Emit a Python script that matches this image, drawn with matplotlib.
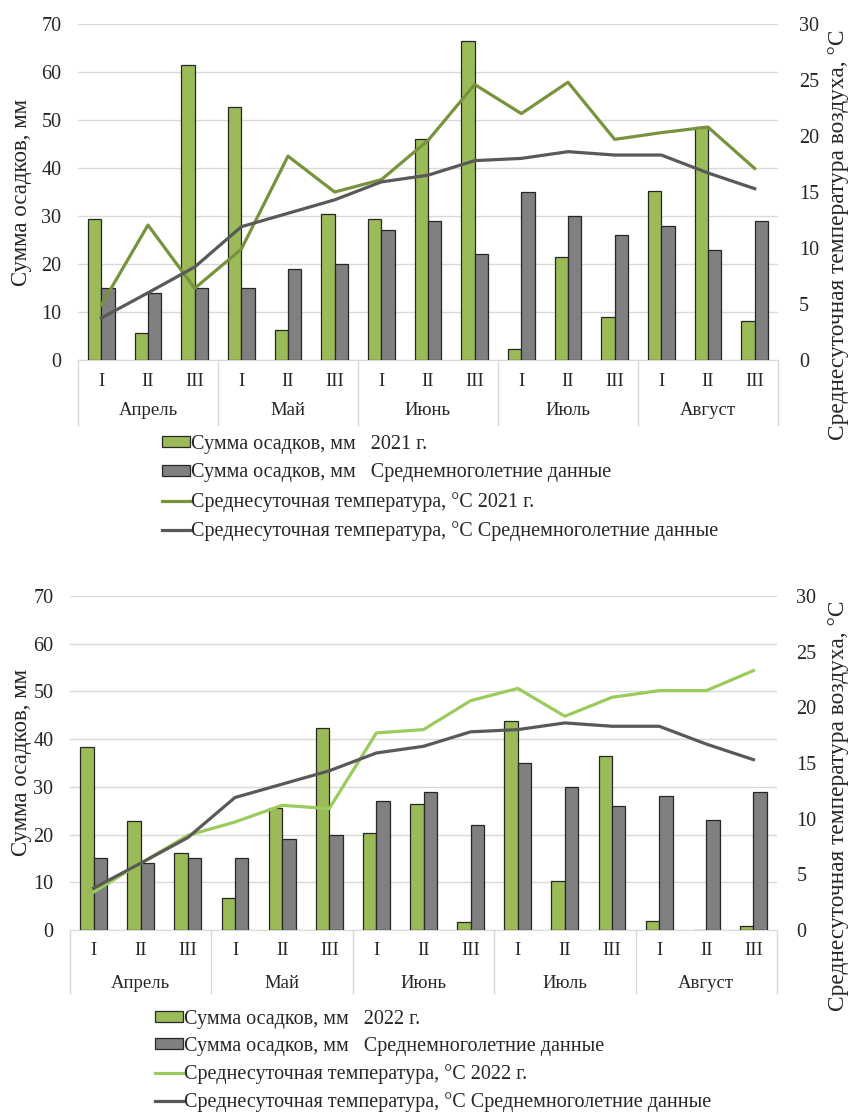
import matplotlib
matplotlib.use("Agg")
import matplotlib.pyplot as plt
import matplotlib.transforms as mtransforms
from matplotlib.patches import Patch
from matplotlib.lines import Line2D
import numpy as np

plt.rcParams['font.family'] = ['Liberation Serif', 'DejaVu Serif']

months = ["Апрель", "Май", "Июнь", "Июль", "Август"]
decades = ["I", "II", "III"]

precip_2021 = [29.3, 5.7, 61.5, 52.7, 6.3, 30.5, 29.4, 46.1, 66.5, 2.3, 21.5, 8.9, 35.2, 48.5, 8.1]
precip_2022 = [38.3, 22.8, 16.1, 6.8, 25.6, 42.4, 20.4, 26.4, 1.7, 43.8, 10.2, 36.4, 1.9, 0.1, 0.8]
precip_norm = [15, 14, 15, 15, 19, 20, 27, 29, 22, 35, 30, 26, 28, 23, 29]

temp_2021 = [4.9, 12.05, 6.4, 9.9, 18.2, 15.0, 16.1, 19.6, 24.6, 22.0, 24.8, 19.7, 20.3, 20.8, 17.1]
temp_2022 = [3.4, 6.0, 8.5, 9.7, 11.2, 10.9, 17.7, 18.0, 20.6, 21.7, 19.2, 20.9, 21.5, 21.5, 23.3]
temp_norm = [3.75, 6.0, 8.3, 11.9, 13.1, 14.3, 15.9, 16.5, 17.8, 18.0, 18.6, 18.3, 18.3, 16.7, 15.3]

GREEN_BAR = "#9bbb59"
GRAY_BAR = "#808080"
EDGE = "#262626"
GRAY_LINE = "#595959"
GRID = "#d9d9d9"
TXT = "#262626"

fig = plt.figure(figsize=(8.52, 11.13), dpi=100)


def draw_panel(rect, precip, temp, temp_color, year, legend_xy, label_y_center, rlabel_y_center,
               tick_y, month_y, sep_y, lspacing, rpad):
    ax = fig.add_axes(rect)
    n = len(precip)
    x = np.arange(n)
    w = 0.285
    ax.bar(x - w / 2, precip, width=w, color=GREEN_BAR, edgecolor=EDGE, linewidth=0.9, zorder=3)
    ax.bar(x + w / 2, precip_norm, width=w, color=GRAY_BAR, edgecolor=EDGE, linewidth=0.9, zorder=3)
    ax.set_xlim(-0.5, n - 0.5)
    ax.set_ylim(0, 70)
    ax.set_yticks(range(0, 71, 10))
    ax.yaxis.grid(True, color=GRID, linewidth=1.0, zorder=0)
    ax.set_axisbelow(True)
    for s in ["top", "right", "left"]:
        ax.spines[s].set_visible(False)
    ax.spines["bottom"].set_color(GRID)
    ax.set_xticks([])
    ax.tick_params(axis="y", length=0, labelsize=14.5, colors=TXT, pad=12)

    ax2 = ax.twinx()
    ax2.set_ylim(0, 30)
    ax2.set_yticks(range(0, 31, 5))
    for s in ["top", "right", "left", "bottom"]:
        ax2.spines[s].set_visible(False)
    ax2.tick_params(axis="y", length=0, labelsize=14.5, colors=TXT, pad=rpad)
    ax2.plot(x, temp, color=temp_color, linewidth=2.3, zorder=4)
    ax2.plot(x, temp_norm, color=GRAY_LINE, linewidth=2.3, zorder=4)

    trans = mtransforms.blended_transform_factory(ax.transData, ax.transAxes)
    for i in range(n):
        ax.text(i, tick_y, decades[i % 3], transform=trans, ha="center", va="center",
                fontsize=13.5, color=TXT)
    for m, name in enumerate(months):
        ax.text(3 * m + 1, month_y, name, transform=trans, ha="center", va="center",
                fontsize=13.5, color=TXT)
    for b in range(len(months) + 1):
        ax.add_line(Line2D([3 * b - 0.5, 3 * b - 0.5], [0, sep_y], transform=trans,
                           color=GRID, linewidth=1.0, clip_on=False))

    fig.text(0.025, label_y_center, "Сумма осадков, мм", rotation=90, ha="center", va="center",
             fontsize=16.5, color=TXT)
    fig.text(0.984, rlabel_y_center, "Среднесуточная температура воздуха, °С", rotation=90,
             ha="center", va="center", fontsize=16.8, color=TXT)

    handles = [
        Patch(facecolor=GREEN_BAR, edgecolor=EDGE, linewidth=0.9),
        Patch(facecolor=GRAY_BAR, edgecolor=EDGE, linewidth=0.9),
        Line2D([0], [0], color=temp_color, linewidth=2.3),
        Line2D([0], [0], color=GRAY_LINE, linewidth=2.3),
    ]
    labels = [
        f"Сумма осадков, мм   {year} г.",
        "Сумма осадков, мм   Среднемноголетние данные",
        f"Среднесуточная температура, °С {year} г.",
        "Среднесуточная температура, °С Среднемноголетние данные",
    ]
    fig.legend(handles, labels, loc="upper left", bbox_to_anchor=legend_xy, frameon=False,
               fontsize=14.5, handlelength=1.4, handleheight=0.45, handletextpad=0.05,
               labelspacing=lspacing, borderpad=0, borderaxespad=0, labelcolor=TXT)
    return ax


W, H = 852.0, 1113.0
# top panel
draw_panel([78 / W, 1 - 360 / H, (778 - 78) / W, 336 / H], precip_2021, temp_2021, "#77933c", 2021,
           (162 / W, 1 - 435 / H), 1 - 192 / H, 1 - 235 / H,
           -0.0625, -0.149, -0.193, 0.47, 15)
# bottom panel
draw_panel([70 / W, 1 - 930 / H, (777 - 70) / W, 334 / H], precip_2022, temp_2022, "#9bcb5a", 2022,
           (155 / W, 1 - 1010 / H), 1 - 763 / H, 1 - 806 / H,
           -0.06, -0.159, -0.189, 0.40, 14)

fig.savefig("out.png", dpi=100)
